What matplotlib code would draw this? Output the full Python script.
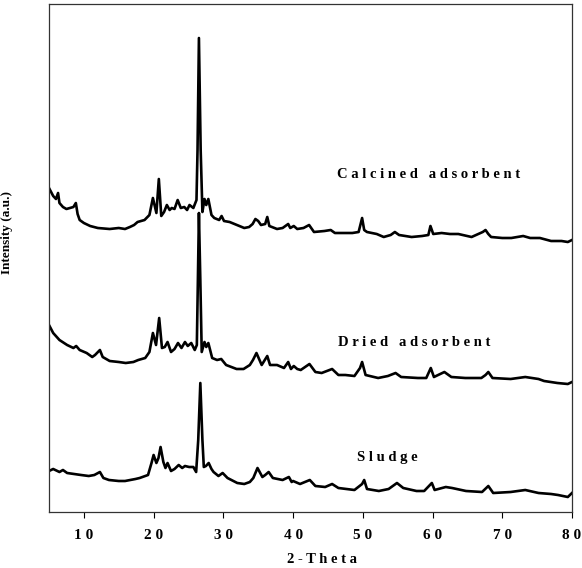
import matplotlib
matplotlib.use("Agg")
import matplotlib.pyplot as plt

# XRD patterns: 2-theta (deg) and intensity (a.u., vertically offset per sample)
calcined_2theta = [5.0, 5.3, 5.6, 6.0, 6.3, 6.5, 7.0, 7.5, 8.0, 8.5, 8.85, 9.1, 9.4, 10.0, 10.9,
                   12.0, 13.7, 15.0, 15.9, 16.6, 17.2, 17.7, 18.7, 19.4, 19.9, 20.4, 20.75, 21.1,
                   21.5, 21.9, 22.3, 22.6, 23.0, 23.45, 23.9, 24.4, 24.8, 25.15, 25.7, 26.15, 26.3,
                   26.5, 26.75, 27.0, 27.3, 27.55, 27.85, 28.3, 28.7, 29.4, 29.75, 30.1, 30.9, 32.3,
                   33.0, 33.7, 34.2, 34.6, 35.0, 35.4, 36.0, 36.3, 36.6, 37.7, 38.5, 39.3, 39.6,
                   40.1, 40.6, 41.5, 42.3, 43.0, 44.5, 45.4, 46.0, 47.3, 48.5, 49.4, 49.9, 50.2,
                   50.6, 52.0, 53.0, 54.0, 54.6, 55.2, 57.0, 58.5, 59.4, 59.7, 60.1, 61.3, 62.5,
                   63.7, 65.6, 67.2, 67.6, 68.0, 68.4, 70.0, 71.3, 73.0, 74.0, 75.4, 77.0, 78.5,
                   79.4, 80.0]
calcined_int = [324, 320, 316, 313, 319, 309, 305, 303, 304, 305, 309, 298, 292, 289, 286,
                284, 283, 284, 283, 285, 287, 290, 292, 297, 314, 299, 333, 296,
                300, 307, 302, 304, 303, 312, 304, 305, 302, 307, 304, 312, 362,
                474, 362, 300, 313, 307, 313, 297, 294, 292, 296, 291, 290, 286,
                284, 285, 288, 293, 291, 287, 288, 295, 286, 283, 284, 288, 284,
                286, 283, 284, 287, 280, 281, 282, 279, 279, 279, 280, 294, 282,
                280, 278, 275, 277, 280, 277, 275, 276, 277, 286, 278, 279, 278,
                278, 275, 280, 282, 278, 275, 274, 274, 276, 274, 274, 271, 271,
                270, 272]

dried_2theta = [5.0, 5.6, 6.5, 7.6, 8.5, 8.9, 9.4, 10.4, 11.2, 11.6, 12.3, 12.7, 13.7, 15.0,
                16.0, 17.1, 17.8, 18.8, 19.4, 19.9, 20.35, 20.8, 21.2, 21.6, 22.0, 22.5, 23.0,
                23.5, 24.0, 24.5, 24.9, 25.4, 25.9, 26.2, 26.35, 26.5, 26.7, 26.9, 27.3, 27.55,
                27.85, 28.4, 29.1, 29.7, 30.4, 31.9, 32.9, 33.8, 34.25, 34.75, 35.5, 36.3, 36.7,
                37.7, 38.7, 39.3, 39.7, 40.1, 40.6, 41.1, 42.35, 43.2, 44.1, 45.6, 46.5, 47.5,
                48.8, 49.6, 49.9, 50.4, 52.2, 53.6, 54.7, 55.5, 57.9, 59.1, 59.75, 60.2, 61.7,
                62.7, 64.7, 67.0, 67.6, 68.0, 68.6, 71.2, 73.3, 75.2, 76.0, 77.9, 79.4, 80.0]
dried_int = [187, 179, 172, 167, 164, 166, 162, 159, 155, 157, 162, 155, 151, 150,
             149, 150, 152, 154, 160, 179, 167, 194, 164, 165, 170, 160, 163,
             169, 164, 170, 166, 169, 162, 167, 232, 299, 232, 160, 170, 165,
             169, 154, 152, 153, 147, 143, 143, 147, 152, 159, 147, 156, 147,
             147, 144, 150, 143, 146, 143, 142, 148, 140, 139, 143, 137, 137,
             136, 144, 150, 137, 134, 136, 139, 135, 134, 134, 144, 135, 140,
             135, 134, 134, 137, 140, 134, 133, 135, 133, 131, 129, 128, 130]

sludge_2theta = [5.0, 5.6, 6.5, 7.0, 7.6, 8.6, 9.6, 10.7, 11.5, 12.3, 12.8, 13.6, 15.0, 15.9,
                 17.4, 18.0, 19.2, 19.7, 20.0, 20.4, 20.7, 21.0, 21.4, 21.7, 22.0, 22.5, 23.0,
                 23.6, 24.1, 24.5, 25.1, 25.7, 26.1, 26.4, 26.7, 27.0, 27.2, 27.5, 27.9, 28.3,
                 28.6, 29.3, 29.9, 30.6, 32.0, 33.0, 33.8, 34.3, 34.9, 35.6, 36.0, 36.5, 37.1,
                 38.5, 39.4, 39.8, 40.0, 41.0, 42.4, 43.2, 44.6, 45.6, 46.5, 48.8, 49.9, 50.2,
                 50.6, 52.3, 53.7, 54.9, 55.8, 57.7, 58.8, 59.9, 60.3, 61.9, 62.8, 64.8, 67.1,
                 68.0, 68.7, 71.2, 73.3, 75.2, 77.0, 78.0, 79.4, 80.0]
sludge_int = [41, 43, 40, 42, 39, 38, 37, 36, 37, 40, 34, 32, 31, 31,
              33, 34, 37, 49, 57, 49, 54, 65, 50, 44, 49, 41, 43,
              47, 44, 46, 45, 45, 40, 72, 129, 72, 45, 46, 49, 43,
              40, 36, 39, 34, 29, 28, 30, 34, 44, 35, 37, 40, 34,
              32, 35, 30, 31, 28, 32, 26, 25, 28, 24, 22, 28, 32,
              23, 21, 23, 29, 24, 21, 21, 29, 22, 25, 24, 21, 20,
              26, 19, 20, 22, 19, 18, 17, 15, 19]

sample_labels = ["C a l c i n e d   a d s o r b e n t",
                 "D r i e d   a d s o r b e n t",
                 "S l u d g e"]
label_x = [59.5, 57.4, 53.5]
label_y = [337, 169, 55]

x_ticks = [10, 20, 30, 40, 50, 60, 70, 80]
x_ticklabels = ["1 0", "2 0", "3 0", "4 0", "5 0", "6 0", "7 0", "8 0"]

serif = ["Liberation Serif", "DejaVu Serif"]

fig = plt.figure(figsize=(5.82, 5.68), dpi=100)
ax = fig.add_axes([49 / 582, 56 / 568, 523 / 582, 508 / 568])

for tt, yy in [(calcined_2theta, calcined_int),
               (dried_2theta, dried_int),
               (sludge_2theta, sludge_int)]:
    ax.plot(tt, yy, color="black", lw=1.9, solid_joinstyle="round")

for text, lx, ly in zip(sample_labels, label_x, label_y):
    ax.text(lx, ly, text, ha="center", va="center", fontsize=10.5,
            fontweight="bold", family=serif)

ax.set_xlim(5, 80)
ax.set_ylim(0, 508)
ax.set_xticks(x_ticks)
ax.set_xticklabels(x_ticklabels, fontsize=11, fontweight="bold", family=serif)
ax.set_yticks([])
ax.tick_params(axis="x", direction="out", length=4, width=0.8, pad=8)

for sp in ax.spines.values():
    sp.set_linewidth(0.9)
    sp.set_color("#333333")

ax.set_xlabel("2 - T h e t a", fontsize=10.5, fontweight="bold", family=serif)
ax.xaxis.set_label_coords((322 - 49) / 523, -0.08)
ax.set_ylabel("Intensity (a.u.)", fontsize=9.5, fontweight="bold", family=serif)
ax.yaxis.set_label_coords(-0.068, (512 - 232) / 508)

fig.savefig("out.png", dpi=100)
